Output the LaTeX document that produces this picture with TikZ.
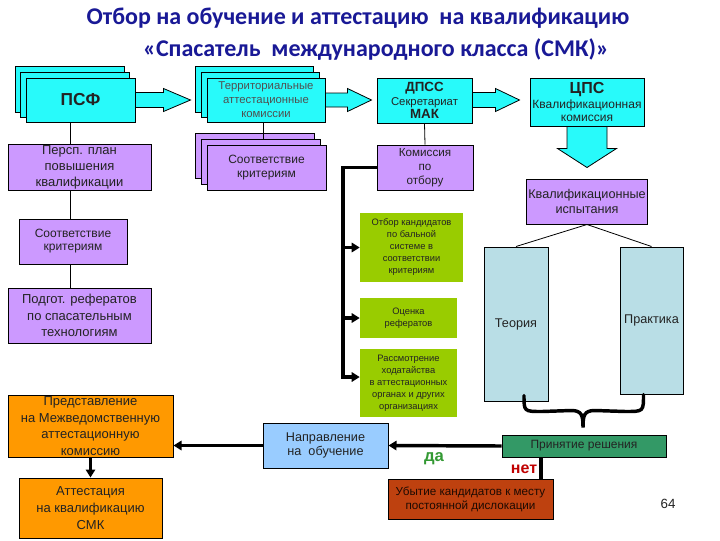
\documentclass[tikz,border=0pt]{standalone}
\usepackage{fontspec}
\setmainfont{Liberation Sans}
\newfontfamily\titlefont{Carlito}
\usetikzlibrary{calc,arrows.meta}
\definecolor{cy}{RGB}{40,250,250}
\definecolor{lil}{RGB}{204,153,255}
\definecolor{grn}{RGB}{153,204,0}
\definecolor{orn}{RGB}{255,153,0}
\definecolor{lblue}{RGB}{153,204,255}
\definecolor{tealg}{RGB}{51,153,102}
\definecolor{brn}{RGB}{190,65,15}
\definecolor{gblue}{RGB}{185,222,230}
\definecolor{ttl}{RGB}{25,25,150}
\definecolor{txt}{RGB}{35,35,35}
\definecolor{gtxt}{RGB}{80,80,80}
\definecolor{dagreen}{RGB}{51,153,51}
\definecolor{netred}{RGB}{192,0,0}
\newcommand\bx[7]{\node[#6, minimum width={(#4-#2)*0.75pt}, minimum height={(#5-#3)*0.75pt}] (#1) at ({(#2+#4)/2},{(#3+#5)/2}) {#7};}
\begin{document}
\begin{tikzpicture}[x=0.75pt,y=-0.75pt,
  box/.style={draw=black,line width=0.75pt,inner sep=1pt,align=center,text=txt},
  gbox/.style={fill=grn,inner sep=1pt,align=center,text=txt,font=\fontsize{7}{9}\selectfont},
  thin/.style={line width=0.6pt},
  thk/.style={line width=2.6pt},
  tip/.style={-{Triangle[length=6pt,width=7pt]}},
  barrow/.style={fill=cy,draw=black,line width=0.6pt,line join=miter}]
\fill[white] (0,0) rectangle (720,540);
\useasboundingbox (0,0) rectangle (720,540);
% title
\node[font=\titlefont\bfseries\fontsize{18}{21}\selectfont, text=ttl] (t1) at (358,18) {Отбор на обучение и аттестацию\ \ на квалификацию};
\node[font=\titlefont\bfseries\fontsize{18}{21}\selectfont, text=ttl] (t2) at (376,50) {«Спасатель\ \ международного класса (СМК)»};
% top row
\bx{psf3}{15}{66}{124}{112}{box,fill=cy}{}
\bx{psf2}{20}{72}{129}{117}{box,fill=cy}{}
\bx{psf}{26}{78}{135}{122}{box,fill=cy,font=\bfseries\fontsize{13}{15}\selectfont}{ПСФ}
\bx{terr3}{195}{66}{313}{112}{box,fill=cy}{}
\bx{terr2}{201}{72}{319}{117}{box,fill=cy}{}
\bx{terr}{207}{78}{325}{122}{box,fill=cy,text=gtxt,font=\fontsize{8.5}{10.5}\selectfont}{Территориальные\\аттестационные\\комиссии}
\bx{dpss}{377}{78}{472}{123}{box,fill=cy,font=\fontsize{8.5}{10}\selectfont}{{\bfseries\fontsize{10}{10}\selectfont ДПСС}\\Секретариат\\{\bfseries\fontsize{10}{11}\selectfont МАК}}
\bx{cps}{530}{78}{644}{126}{box,fill=cy,font=\fontsize{9}{10}\selectfont}{{\bfseries\fontsize{12}{12}\selectfont ЦПС}\\[1pt]Квалификационная\\комиссия}
% block arrows
\filldraw[barrow] (psf.east) ++(0,-7.5) -- ++(28,0) -- ++(0,-4) -- ++(27,11.5) -- ++(-27,11.5) -- ++(0,-4) -- ++(-28,0) -- cycle;
\filldraw[barrow] (terr.east) ++(0,-7) -- ++(22,0) -- ++(0,-4.5) -- ++(24,11.5) -- ++(-24,11.5) -- ++(0,-4.5) -- ++(-22,0) -- cycle;
\filldraw[barrow] (dpss.east) ++(0,-8) -- ++(23,0) -- ++(0,-4) -- ++(24,11.5) -- ++(-24,11.5) -- ++(0,-4) -- ++(-23,0) -- cycle;
\filldraw[barrow] (cps.south) ++(-20,0) -- ++(0,22) -- ++(-9.5,0) -- ++(29.5,19) -- ++(29.5,-19) -- ++(-9.5,0) -- ++(0,-22) -- cycle;
% left column
\bx{persp}{8}{145}{151}{190}{box,fill=lil,font=\fontsize{9.75}{11.75}\selectfont}{Персп. план\\повышения\\квалификации}
\bx{sootvL}{19}{219}{127}{264}{box,fill=lil,font=\fontsize{9}{9.75}\selectfont}{Соответствие\\критериям}
\bx{podgot}{8}{288}{151}{343}{box,fill=lil,font=\fontsize{9.75}{12.5}\selectfont}{Подгот. рефератов\\по спасательным\\технологиям}
\bx{predst}{8}{395}{173}{457}{box,fill=orn,font=\fontsize{9.75}{12.5}\selectfont}{Представление\\на Межведомственную\\аттестационную\\комиссию}
\bx{attest}{19}{478}{162}{538}{box,fill=orn,font=\fontsize{9.75}{12.5}\selectfont}{Аттестация\\на квалификацию\\СМК}
\coordinate (lx) at (70,0);
\draw[thin] (lx |- psf.south) -- (lx |- persp.north);
\draw[thin] (lx |- persp.south) -- (lx |- sootvL.north);
\draw[thin] (lx |- sootvL.south) -- (lx |- podgot.north);
% second column
\bx{so3}{195}{133}{314}{178}{box,fill=lil}{}
\bx{so2}{201}{139}{320}{184}{box,fill=lil}{}
\coordinate (tx) at (263,0);
\draw[thin] (tx |- terr.south) -- (tx |- so2.north);
\bx{so}{207}{145}{326}{190}{box,fill=lil,font=\fontsize{9}{10.5}\selectfont}{Соответствие\\критериям}
% third column
\bx{komis}{377}{145}{473}{190}{box,fill=lil,font=\fontsize{8.75}{10.5}\selectfont}{Комиссия\\по\\отбору}
\draw[thin] (dpss.south) -- (komis.north);
\bx{g1}{360}{213}{463}{282}{gbox}{Отбор кандидатов\\по бальной\\системе в\\соответствии\\критериям}
\bx{g2}{360}{298}{457}{338}{gbox}{Оценка\\рефератов}
\bx{g3}{360}{349}{457}{417}{gbox}{Рассмотрение\\ходатайства\\в аттестационных\\органах и других\\организациях}
\coordinate (vx) at (343,0);
\coordinate (g3w) at ($(g3.west)+(0,-6)$);
\draw[thk,tip] (komis.west) -- (vx |- komis.west) -- (vx |- g3w) -- (g3w);
\draw[thk,tip] (vx |- g1.west) -- (g1.west);
\draw[thk,tip] (vx |- g2.west) -- (g2.west);
% right column
\bx{kvisp}{531}{179}{643}{224}{box,fill=lil,font=\fontsize{9.5}{11.25}\selectfont}{Квалификационные\\испытания}
\bx{teor}{484}{247}{548}{401}{box,fill=gblue,font=\fontsize{9.5}{11}\selectfont}{Теория}
\bx{prakt}{620}{247}{683}{394}{box,fill=gblue,font=\fontsize{9.5}{11}\selectfont}{Практика}
\draw[thin] (kvisp.south) -- (teor.north);
\draw[thin] (kvisp.south) -- (prakt.north);
% bottom
\bx{naprav}{263}{423}{388}{468}{box,fill=lblue,font=\fontsize{9.5}{10.5}\selectfont}{Направление\\на\ \ обучение}
\bx{prin}{502}{435}{666}{457}{box,fill=tealg,font=\fontsize{9}{10}\selectfont}{Принятие решения}
\bx{ubyt}{388}{479}{553}{519}{box,fill=brn,text=black!85!brn,font=\fontsize{8.75}{10.5}\selectfont}{Убытие кандидатов к месту\\постоянной дислокации}
\coordinate (bl) at ($(teor.south)+(8,-6)$);
\coordinate (br) at ($(prakt.south)+(-8,0)$);
\coordinate (bt) at ($(prin.north)+(-1,-7)$);
\draw[thk,line cap=round] (bl) .. controls ($(bl)+(0,16)$) and ($(bl)+(0,16)$) .. ($(bl)+(18,16)$) -- ($(bt)+(-12,-17)$) .. controls ($(bt)+(-1,-17)$) and ($(bt)+(0,-12)$) .. (bt) .. controls ($(bt)+(0,-12)$) and ($(bt)+(1,-17)$) .. ($(bt)+(12,-17)$) -- ($(br)+(-18,17)$) .. controls ($(br)+(0,17)$) and ($(br)+(0,17)$) .. (br);
\draw[thk,tip] (prin.west) -- (naprav.east);
\draw[thk,tip] (naprav.west) -- (naprav.west -| predst.east);
\draw[thk,tip] (predst.south) -- (attest.north);
\coordinate (nx) at (541,0);
\draw[thk] (nx |- prin.south) -- (nx |- ubyt.north);
\node[font=\bfseries\fontsize{12.5}{14}\selectfont, text=dagreen] (da) at (434,459) {да};
\node[font=\bfseries\fontsize{12}{14}\selectfont, text=netred] (net) at (524,469) {нет};
\node[font=\fontsize{10}{12}\selectfont, text=txt] (pg) at (668,504) {64};
\end{tikzpicture}
\end{document}
